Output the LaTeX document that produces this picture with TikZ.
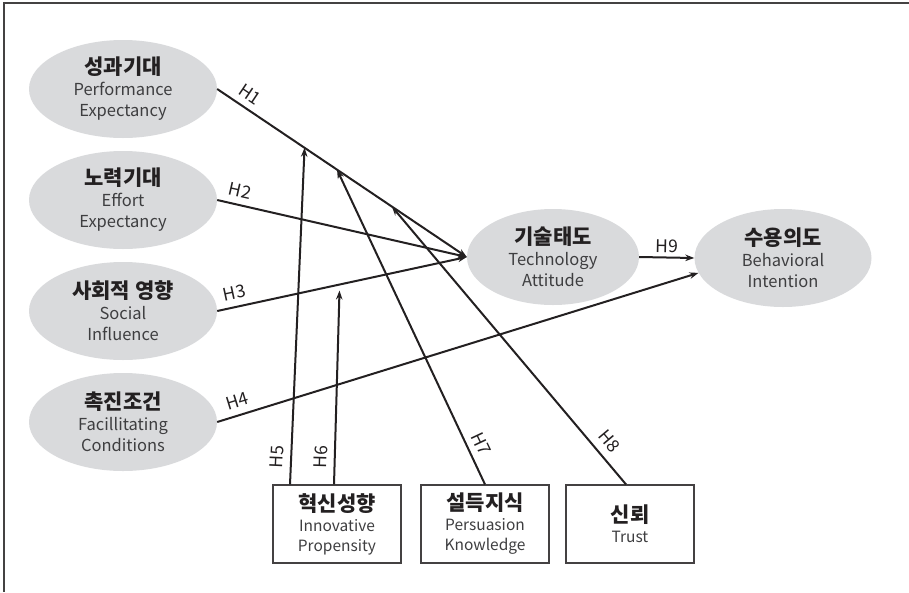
\documentclass[tikz,border=0pt]{standalone}
\usepackage{fontspec}
\setmainfont{Noto Sans CJK KR}
\usepackage{xcolor}
\usepackage{tikz}
\usetikzlibrary{shapes.geometric, arrows.meta, calc}

\definecolor{ellgray}{RGB}{217,218,220}
\definecolor{linegray}{RGB}{35,32,33}
\definecolor{txtgray}{RGB}{62,62,64}
\newcommand{\ktitle}[1]{{\color{linegray}\bfseries\fontsize{21}{23}\selectfont #1}}

\begin{document}
\begin{tikzpicture}[x=1pt, y=-1pt]
    \tikzstyle{construct} = [ellipse, fill=ellgray, inner sep=0pt, minimum width=188, minimum height=98, align=center, text=txtgray, font=\fontsize{16.5}{21}\selectfont]
    \tikzstyle{modbox} = [rectangle, draw=linegray!85, line width=1.2pt, minimum width=128, minimum height=78, align=center, text=txtgray, font=\fontsize{15.5}{20}\selectfont]
    \tikzstyle{hyp} = [-{Stealth[length=9pt, width=6.5pt]}, line width=2pt, draw=linegray]
    \tikzstyle{hlabel} = [font=\fontsize{17.5}{19}\selectfont, text=linegray, sloped, above, inner sep=6.5pt]

    \useasboundingbox (0,0) rectangle (909,592);

    % Frame
    \draw[line width=2pt, linegray!85] (909,3) -- (4,3) -- (4,592);

    % UTAUT constructs
    \node[construct] (pe) at (123,89) {\ktitle{성과기대}\\Performance\\Expectancy};
    \node[construct] (ee) at (123,200) {\ktitle{노력기대}\\Effort\\Expectancy};
    \node[construct] (si) at (123,311) {\ktitle{사회적 영향}\\Social\\Influence};
    \node[construct] (fc) at (123,422) {\ktitle{촉진조건}\\Facillitating\\Conditions};

    % Attitude and intention
    \node[construct, minimum width=172, minimum height=96] (ta) at (553,257) {\ktitle{기술태도}\\Technology\\Attitude};
    \node[construct, minimum width=177] (bi) at (783,258) {\ktitle{수용의도}\\Behavioral\\Intention};

    % Moderators
    \node[modbox] (ip) at (337,524) {\ktitle{혁신성향}\\Innovative\\Propensity};
    \node[modbox] (pk) at (485,524) {\ktitle{설득지식}\\Persuasion\\Knowledge};
    \node[modbox] (tr) at (630,524) {\ktitle{신뢰}\\Trust};

    % Points on the paths
    \coordinate (m5) at ($(pe.east)!0.35!(ta.west)$);
    \coordinate (m7) at ($(pe.east)!0.48!(ta.west)$);
    \coordinate (m8) at ($(pe.east)!0.70!(ta.west)$);
    \coordinate (m6) at ($(si.east)!0.49!(ta.west) + (0,6)$);

    % Hypotheses
    \draw[hyp] (pe.east) -- node[hlabel, pos=0.1] {H1} (ta.west);
    \draw[hyp] (ee.east) -- node[hlabel, pos=0.08] {H2} (ta.west);
    \draw[hyp] (si.east) -- node[hlabel, pos=0.08] {H3} (ta.west);
    \draw[hyp] (fc.east) -- node[hlabel, pos=0.05] {H4} (bi.190);
    \draw[hyp] ([xshift=-47pt]ip.north) -- node[hlabel, pos=0.08] {H5} (m5);
    \draw[hyp] ([xshift=-3pt]ip.north) -- node[hlabel, pos=0.14] {H6} (m6);
    \draw[hyp] (pk.north) -- node[hlabel, pos=0.11] {H7} (m7);
    \draw[hyp] ([xshift=-4pt]tr.north) -- node[hlabel, pos=0.12, inner sep=8pt] {H8} (m8);
    \draw[hyp] (ta.east) -- node[hlabel, inner sep=4pt] {H9} (bi.west);
\end{tikzpicture}
\end{document}
